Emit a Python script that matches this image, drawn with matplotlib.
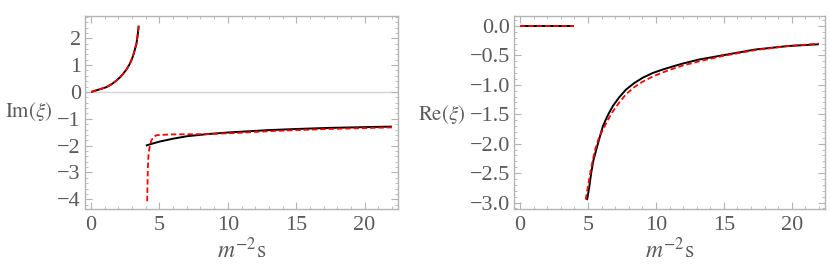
"""Im and Re of xi vs m^-2 s: exact (black) vs approximation (red dashed)."""
import matplotlib
matplotlib.use("Agg")
import matplotlib.pyplot as plt
from matplotlib.ticker import MultipleLocator, FuncFormatter

plt.rcParams["font.family"] = ["Liberation Serif", "DejaVu Serif"]
plt.rcParams["mathtext.fontset"] = "stix"

# Im(xi), branch below threshold (black and red coincide)
im_low_s = [0, 0.5, 1.1, 1.5, 1.84, 2.1, 2.33, 2.6, 2.82, 3.0, 3.11, 3.22, 3.31, 3.40, 3.48]
im_low_v = [0, 0.08, 0.175, 0.29, 0.42, 0.54, 0.67, 0.85, 1.04, 1.25, 1.42, 1.62, 1.79, 2.10, 2.47]

# Im(xi), above threshold
im_high_s = [4.0, 4.5, 5.0, 6.0, 7.0, 8.5, 10, 11, 13, 15, 17.3, 20, 22]
im_high_v = [-2.0, -1.92, -1.85, -1.74, -1.65, -1.57, -1.51, -1.48, -1.42, -1.38, -1.34, -1.31, -1.29]
im_high_red_s = [4.1, 4.12, 4.15, 4.2, 4.3, 4.42, 4.6, 4.8, 5.5, 6.0, 8.5, 10.9, 13.1, 17.3, 22]
im_high_red_v = [-4.07, -3.5, -2.8, -2.3, -2.0, -1.79, -1.66, -1.61, -1.59, -1.58, -1.57, -1.52, -1.46, -1.38, -1.32]

# Re(xi)
re_low_s = [0, 4]
re_low_v = [0, 0]
re_high_s = [4.93, 5.1, 5.24, 5.4, 5.61, 5.85, 6.1, 6.45, 6.83, 7.3, 7.8, 8.4, 9.02,
             9.75, 10.5, 11.2, 11.95, 13.17, 14.87, 17.3, 19.75, 22]
re_high_v = [-2.96, -2.72, -2.49, -2.28, -2.10, -1.90, -1.70, -1.52, -1.36, -1.21, -1.08,
             -0.97, -0.88, -0.80, -0.74, -0.69, -0.64, -0.57, -0.50, -0.40, -0.34, -0.31]
re_high_red_s = [4.83, 5.0, 5.2, 5.5, 5.8, 6.1, 6.5, 6.83, 7.3, 7.8, 8.4, 9.0, 9.75,
                 10.5, 11.2, 12.0, 13.2, 14.9, 17.3, 19.75, 22]
re_high_red_v = [-2.95, -2.72, -2.45, -2.12, -1.90, -1.76, -1.58, -1.45, -1.30, -1.16,
                 -1.04, -0.95, -0.86, -0.79, -0.73, -0.67, -0.60, -0.51, -0.41, -0.34, -0.30]

FRAME = "#b4b4b4"
TEXT = "#5a5a5a"


def minus_fmt(fmt):
    return FuncFormatter(lambda v, _: (fmt % v).replace("-", "\u2212")
                         if abs(v) > 1e-9 else fmt % 0)


def style(ax, ymajor, yminor, yfmt):
    for sp in ax.spines.values():
        sp.set_color(FRAME)
        sp.set_linewidth(1.0)
    ax.xaxis.set_major_locator(MultipleLocator(5))
    ax.xaxis.set_minor_locator(MultipleLocator(1))
    ax.yaxis.set_major_locator(MultipleLocator(ymajor))
    ax.yaxis.set_minor_locator(MultipleLocator(yminor))
    ax.yaxis.set_major_formatter(minus_fmt(yfmt))
    ax.tick_params(which="both", direction="in", color=FRAME, top=True, right=True,
                   labelcolor=TEXT, labelsize=16)
    ax.tick_params(which="major", length=5, width=0.8, pad=3)
    ax.tick_params(which="minor", length=2.5, width=0.6)
    ax.tick_params(axis="x", pad=5)
    ax.set_xlim(-0.45, 22.45)
    ax.set_xlabel(r"$m^{-2}\mathrm{s}$", color=TEXT, fontsize=17, labelpad=2)


def draw(ax, s, v, s_red, v_red):
    ax.plot(s, v, color="black", lw=1.4, solid_capstyle="butt", zorder=3)
    ax.plot(s_red, v_red, color="red", lw=1.3, dashes=(3, 1.6), zorder=4)


fig = plt.figure(figsize=(8.3, 2.73), dpi=100)
ax1 = fig.add_axes([85 / 830, 1 - 209 / 273, 313 / 830, 193 / 273])
ax2 = fig.add_axes([514 / 830, 1 - 209 / 273, 311 / 830, 193 / 273])

ax1.axhline(0, color="#d4d4d4", lw=1.0, zorder=1)
draw(ax1, im_low_s, im_low_v, im_low_s, im_low_v)
draw(ax1, im_high_s, im_high_v, im_high_red_s, im_high_red_v)
style(ax1, 1, 0.2, "%d")
ax1.set_ylim(-4.36, 2.83)
ax1.set_ylabel(r"$\mathrm{Im}(\xi)$", color=TEXT, fontsize=15, rotation=0,
               ha="right", va="center")
ax1.yaxis.set_label_coords(-0.105, 0.505)

draw(ax2, re_low_s, re_low_v, re_low_s, re_low_v)
draw(ax2, re_high_s, re_high_v, re_high_red_s, re_high_red_v)
style(ax2, 0.5, 0.1, "%.1f")
ax2.set_ylim(-3.11, 0.17)
ax2.set_ylabel(r"$\mathrm{Re}(\xi)$", color=TEXT, fontsize=15, rotation=0,
               ha="right", va="center")
ax2.yaxis.set_label_coords(-0.155, 0.49)

fig.savefig("out.png", dpi=100)
